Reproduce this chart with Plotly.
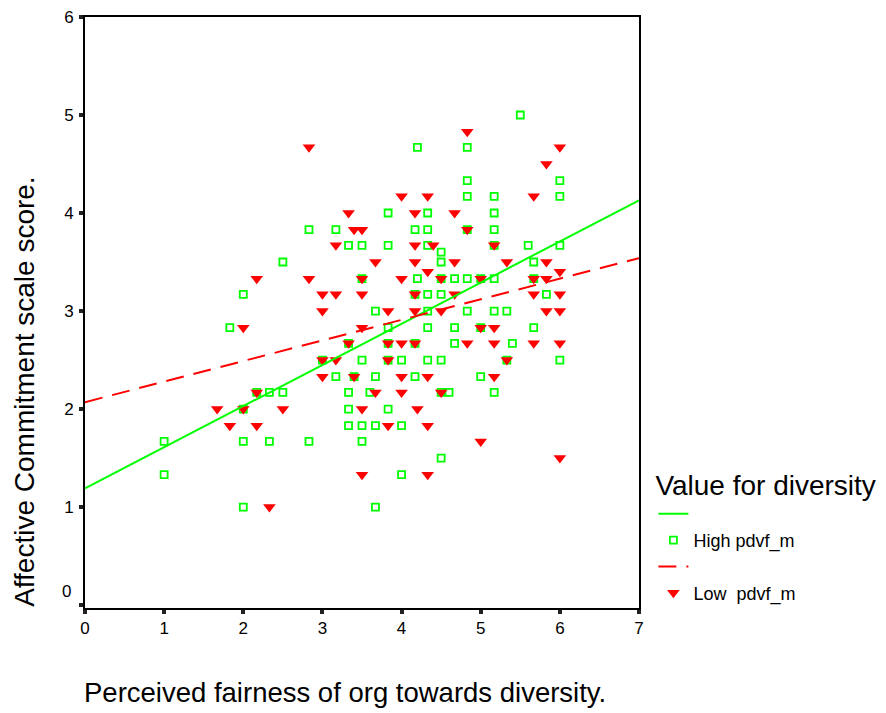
import plotly.graph_objects as go

# ---- data ----
high_x = [1.0, 1.0, 1.83, 2.0, 2.0, 2.0, 2.0, 2.17, 2.33, 2.33, 2.5, 2.5, 2.83, 2.83,
          3.0, 3.17, 3.17, 3.33, 3.33, 3.33, 3.33, 3.33, 3.4, 3.5, 3.5, 3.5, 3.5, 3.5, 3.6,
          3.67, 3.67, 3.67, 3.67, 3.83, 3.83, 3.83, 3.83, 3.83, 3.83,
          4.0, 4.0, 4.0, 4.17, 4.17, 4.17, 4.17, 4.2, 4.2,
          4.33, 4.33, 4.33, 4.33, 4.33, 4.33, 4.33,
          4.5, 4.5, 4.5, 4.5, 4.5, 4.5, 4.5, 4.6, 4.67, 4.67, 4.67,
          4.83, 4.83, 4.83, 4.83, 4.83, 4.83, 5.0, 5.0, 5.0,
          5.17, 5.17, 5.17, 5.17, 5.17, 5.17, 5.17, 5.33, 5.33, 5.4, 5.5, 5.6,
          5.67, 5.67, 5.67, 5.83, 6.0, 6.0, 6.0, 6.0]
high_y = [1.67, 1.33, 2.83, 3.17, 2.0, 1.67, 1.0, 2.17, 2.17, 1.67, 3.5, 2.17, 3.83, 1.67,
          2.5, 3.83, 2.33, 3.67, 2.67, 2.17, 2.0, 1.83, 2.33, 3.67, 3.33, 2.5, 1.83, 1.67, 2.17,
          3.0, 2.33, 1.83, 1.0, 4.0, 3.67, 2.83, 2.67, 2.5, 2.0,
          2.5, 1.83, 1.33, 3.83, 3.17, 2.67, 2.33, 4.67, 3.33,
          4.0, 3.83, 3.67, 3.17, 3.0, 2.83, 2.5,
          3.6, 3.5, 3.33, 3.17, 2.5, 2.17, 1.5, 2.17, 3.33, 2.83, 2.67,
          4.67, 4.33, 4.17, 3.83, 3.33, 3.0, 3.33, 2.83, 2.33,
          4.17, 4.0, 3.83, 3.67, 3.33, 3.0, 2.17, 3.0, 2.5, 2.67, 5.0, 3.67,
          3.5, 3.33, 2.83, 3.17, 4.33, 4.17, 3.67, 2.5]

low_x = [1.67, 1.83, 2.0, 2.0, 2.17, 2.17, 2.17, 2.33, 2.5, 2.83, 2.83,
         3.0, 3.0, 3.0, 3.0, 3.17, 3.17, 3.17, 3.33, 3.33, 3.4, 3.4,
         3.5, 3.5, 3.5, 3.5, 3.5, 3.5, 3.67, 3.67, 3.83, 3.83, 3.83, 3.83,
         4.0, 4.0, 4.0, 4.0, 4.0, 4.17, 4.17, 4.17, 4.17, 4.17, 4.17, 4.2,
         4.33, 4.33, 4.33, 4.33, 4.33, 4.4, 4.5, 4.5, 4.5, 4.67, 4.67, 4.67,
         4.83, 4.83, 4.83, 5.0, 5.0, 5.0, 5.17, 5.17, 5.17, 5.17, 5.33, 5.33,
         5.67, 5.67, 5.67, 5.67, 5.83, 5.83, 5.83, 5.83,
         6.0, 6.0, 6.0, 6.0, 6.0, 6.0]
low_y = [2.0, 1.83, 2.83, 2.0, 3.33, 2.17, 1.83, 1.0, 2.0, 4.67, 3.33,
         3.17, 3.0, 2.5, 2.33, 3.67, 3.17, 2.5, 4.0, 2.67, 3.83, 2.33,
         3.83, 3.33, 3.17, 2.83, 2.0, 1.33, 3.5, 2.17, 3.0, 2.67, 2.5, 1.83,
         4.17, 3.33, 2.67, 2.33, 2.17, 4.0, 3.67, 3.5, 3.17, 3.0, 2.67, 2.0,
         4.17, 3.4, 2.33, 1.83, 1.33, 3.67, 3.33, 3.0, 2.17, 4.0, 3.5, 3.17,
         4.83, 3.83, 2.67, 3.33, 2.83, 1.67, 3.67, 2.83, 2.67, 2.33, 3.5, 2.5,
         4.17, 3.33, 3.17, 2.67, 4.5, 3.5, 3.33, 3.0,
         4.67, 3.4, 3.17, 3.0, 2.67, 1.5]

# fit lines (intercept, slope)
high_fit = (1.19, 0.42)
low_fit = (2.07, 0.21)
fit_x = [0, 7]

x_ticks = [0, 1, 2, 3, 4, 5, 6, 7]
y_ticks = [0, 1, 2, 3, 4, 5, 6]

GREEN = "#00FF00"
RED = "#FF0000"
FONT = "Liberation Sans, Arial, sans-serif"

fig = go.Figure()

fig.add_trace(go.Scatter(
    x=high_x, y=high_y, mode="markers", name="High pdvf_m", legendrank=2,
    marker=dict(symbol="square-open", size=7, color=GREEN, line=dict(width=1.8, color=GREEN)),
))
fig.add_trace(go.Scatter(
    x=low_x, y=low_y, mode="markers", name="Low  pdvf_m", legendrank=4,
    marker=dict(symbol="triangle-down", size=11, color=RED, line=dict(width=0)),
))
fig.add_trace(go.Scatter(
    x=fit_x, y=[high_fit[0] + high_fit[1] * v for v in fit_x], mode="lines",
    name=" ", legendrank=1, line=dict(color=GREEN, width=2),
))
fig.add_trace(go.Scatter(
    x=fit_x, y=[low_fit[0] + low_fit[1] * v for v in fit_x], mode="lines",
    name=" ", legendrank=3, line=dict(color=RED, width=2, dash="18px,10px"),
))

axis_common = dict(
    showgrid=False, zeroline=False, showline=True, mirror=True, automargin=False,
    linecolor="black", linewidth=2, ticks="outside", ticklen=4, tickwidth=4,
    tickcolor="#222", tickfont=dict(family=FONT, size=17, color="black"),
    ticklabeloverflow="allow",
)

# the page body adds an 8px offset, so the figure is 8px smaller than the window
fig.update_layout(
    width=878, height=705,
    margin=dict(l=77, r=247, t=9, b=105, autoexpand=False),
    paper_bgcolor="white", plot_bgcolor="white",
    font=dict(family=FONT, color="black"),
    xaxis=dict(range=[0, 7], tickvals=x_ticks, ticktext=[str(v) for v in x_ticks],
               ticklabelstandoff=0, **axis_common),
    yaxis=dict(range=[-0.03, 6], tickvals=y_ticks,
               ticktext=[""] + [str(v) for v in y_ticks[1:]], ticklabelstandoff=2,
               **axis_common),
    legend=dict(
        x=1.026, y=0.252, xanchor="left", yanchor="top",
        title=dict(text="Value for diversity", font=dict(size=28, family=FONT)),
        font=dict(size=18, family=FONT), traceorder="normal",
        bgcolor="rgba(0,0,0,0)", itemwidth=30,
    ),
    annotations=[
        dict(text="Perceived fairness of org towards diversity.", xref="paper", yref="paper",
             x=0.469, y=-0.1437, xanchor="center", yanchor="middle", showarrow=False,
             font=dict(size=27.5, family=FONT)),
        dict(text="Affective Commitment scale score.", xref="paper", yref="paper",
             x=-0.108, y=0.366, xanchor="center", yanchor="middle", textangle=-90,
             showarrow=False, font=dict(size=28, family=FONT)),
        dict(text="0", xref="paper", yref="y", x=0, y=0, xanchor="right", yanchor="middle",
             xshift=-12, yshift=14, showarrow=False, font=dict(size=17, family=FONT)),
    ],
)

fig.write_html("out.html")
